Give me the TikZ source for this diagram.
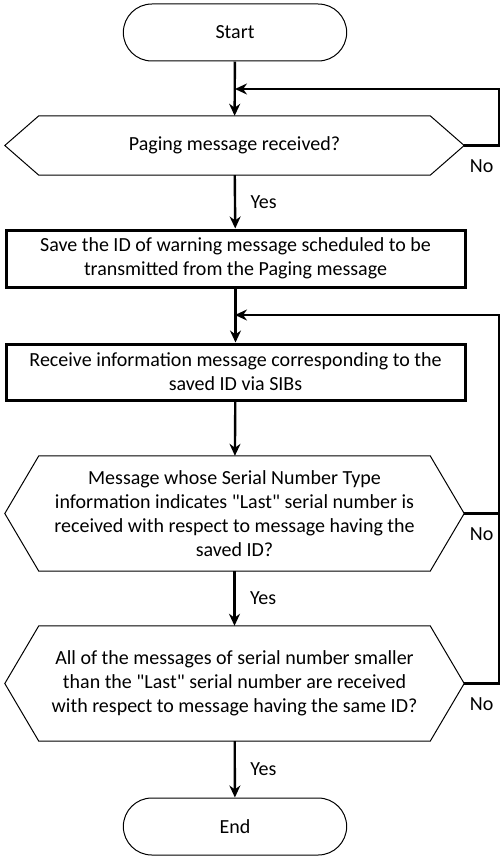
\documentclass[tikz,border=0pt]{standalone}
\usepackage{fontspec}
\setmainfont{Carlito}
\usetikzlibrary{shapes.misc,arrows.meta}

\begin{document}
\begin{tikzpicture}[x=1pt, y=1pt, >={Stealth[length=12pt,width=11pt]}, line width=2.4pt,
  font=\fontsize{20}{24}\selectfont,
  term/.style={rounded rectangle, draw, line width=1pt, minimum width=230pt, minimum height=57pt},
  proc/.style={rectangle, draw, line width=3pt, minimum width=459pt, minimum height=#1, align=center, inner sep=0pt},
  decision/.style={rectangle, minimum width=457pt, minimum height=#1, align=center, inner sep=0pt,
    append after command={\pgfextra{\draw[-, line width=1pt] (\tikzlastnode.west)
      -- ([xshift=34pt]\tikzlastnode.north west) -- ([xshift=-34pt]\tikzlastnode.north east)
      -- (\tikzlastnode.east) -- ([xshift=-34pt]\tikzlastnode.south east)
      -- ([xshift=34pt]\tikzlastnode.south west) -- cycle;}}}]
  \useasboundingbox (0,0) rectangle (503,-859);

  \node[term] (start) at (235,-32.5) {Start};
  \node[decision=57pt] (dec1) at (234.5,-145.5) {Paging message received?};
  \node[proc=57pt] (save) at (235.5,-258.5) {Save the ID of warning message scheduled to be\\transmitted from the Paging message};
  \node[proc=56pt] (recv) at (235.5,-372) {Receive information message corresponding to the\\saved ID via SIBs};
  \node[decision=113pt] (dec2) at (234.5,-513.5) {Message whose Serial Number Type\\information indicates \textquotedbl Last\textquotedbl{} serial number is\\received with respect to message having the\\saved ID?};
  \node[decision=113pt] (dec3) at (234.5,-683.5) {All of the messages of serial number smaller\\than the \textquotedbl Last\textquotedbl{} serial number are received\\with respect to message having the same ID?};
  \node[term] (end) at (235,-826.5) {End};

  \coordinate (j1) at (235,-89);
  \coordinate (r1) at (499,-89);
  \coordinate (j2) at (235,-315);
  \coordinate (r2) at (499,-315);

  \draw[->] (start) -- (dec1);
  \draw[->] (dec1) -- node[right, xshift=11pt] {Yes} (save);
  \draw[->] (save) -- (recv);
  \draw[->] (recv) -- (dec2);
  \draw[->] (dec2) -- node[right, xshift=11pt] {Yes} (dec3);
  \draw[->] (dec3) -- node[right, xshift=11pt] {Yes} (end);

  \draw[->] (dec1.east) -- node[below=10pt] {No} (dec1.east -| r1) -- (r1) -- (j1);
  \draw (dec2.east) -- node[below=10pt] {No} (dec2.east -| r2);
  \draw[->] (dec3.east) -- node[below=10pt] {No} (dec3.east -| r2) -- (r2) -- (j2);
\end{tikzpicture}
\end{document}
